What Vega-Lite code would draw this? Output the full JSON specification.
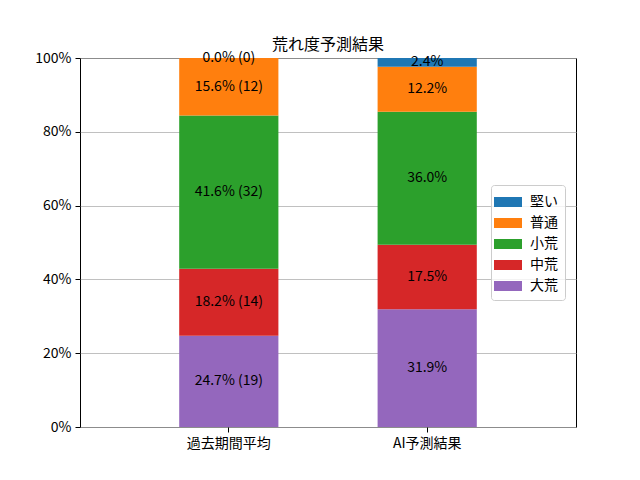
{
  "$schema": "https://vega.github.io/schema/vega-lite/v6.json",
  "autosize": "none",
  "padding": {"left": 80, "top": 58, "right": 64, "bottom": 53},
  "width": 496,
  "height": 369,
  "title": {"text": "荒れ度予測結果", "fontSize": 16, "fontWeight": "normal", "font": "Noto Sans CJK JP", "color": "black", "offset": -2},
  "data": {
    "values": [
      {"group": "過去期間平均", "category": "大荒", "rank": 1, "value": 0.247, "label": "24.7% (19)"},
      {"group": "過去期間平均", "category": "中荒", "rank": 2, "value": 0.182, "label": "18.2% (14)"},
      {"group": "過去期間平均", "category": "小荒", "rank": 3, "value": 0.415, "label": "41.6% (32)"},
      {"group": "過去期間平均", "category": "普通", "rank": 4, "value": 0.156, "label": "15.6% (12)"},
      {"group": "過去期間平均", "category": "堅い", "rank": 5, "value": 0.0, "label": "0.0% (0)"},
      {"group": "AI予測結果", "category": "大荒", "rank": 1, "value": 0.319, "label": "31.9%"},
      {"group": "AI予測結果", "category": "中荒", "rank": 2, "value": 0.175, "label": "17.5%"},
      {"group": "AI予測結果", "category": "小荒", "rank": 3, "value": 0.360, "label": "36.0%"},
      {"group": "AI予測結果", "category": "普通", "rank": 4, "value": 0.122, "label": "12.2%"},
      {"group": "AI予測結果", "category": "堅い", "rank": 5, "value": 0.024, "label": "2.4%"}
    ]
  },
  "transform": [
    {"stack": "value", "groupby": ["group"], "sort": [{"field": "rank", "order": "ascending"}], "as": ["y0", "y1"]},
    {"calculate": "(datum.y0 + datum.y1) / 2", "as": "ymid"}
  ],
  "encoding": {
    "x": {
      "field": "group",
      "type": "nominal",
      "sort": ["過去期間平均", "AI予測結果"],
      "scale": {"paddingInner": 0.5, "paddingOuter": 0.5},
      "axis": {"title": null, "labelAngle": 0, "domain": false, "tickSize": 5, "labelPadding": 4}
    }
  },
  "layer": [
    {
      "mark": {"type": "bar"},
      "encoding": {
        "y": {
          "field": "y0",
          "type": "quantitative",
          "scale": {"domain": [0, 1], "nice": false},
          "axis": {"title": null, "format": ".0%", "values": [0, 0.2, 0.4, 0.6, 0.8, 1], "grid": true, "domain": false, "tickSize": 5, "labelPadding": 4}
        },
        "y2": {"field": "y1"},
        "color": {
          "field": "category",
          "type": "nominal",
          "scale": {
            "domain": ["堅い", "普通", "小荒", "中荒", "大荒"],
            "range": ["#1f77b4", "#ff7f0e", "#2ca02c", "#d62728", "#9467bd"]
          },
          "legend": {
            "title": null,
            "orient": "none",
            "legendX": 411,
            "legendY": 127,
            "symbolType": "M-1.4,-0.5H1.4V0.5H-1.4Z",
            "symbolSize": 400,
            "symbolStrokeWidth": 0,
            "symbolOpacity": 1,
            "labelFontSize": 14,
            "labelFont": "Noto Sans CJK JP",
            "labelColor": "black",
            "rowPadding": 4,
            "labelOffset": 12,
            "padding": 7,
            "strokeColor": "#cccccc",
            "fillColor": "rgba(255,255,255,0.8)",
            "cornerRadius": 3
          }
        }
      }
    },
    {
      "mark": {"type": "text", "fontSize": 14, "font": "Noto Sans CJK JP", "color": "black", "baseline": "middle", "align": "center"},
      "encoding": {
        "y": {"field": "ymid", "type": "quantitative"},
        "text": {"field": "label"}
      }
    }
  ],
  "config": {
    "view": {"stroke": "black", "strokeWidth": 1},
    "axis": {
      "labelFont": "Noto Sans CJK JP",
      "labelFontSize": 14,
      "labelColor": "black",
      "tickColor": "black",
      "gridColor": "#b0b0b0",
      "gridWidth": 0.8
    },
    "axisX": {"grid": false}
  }
}
